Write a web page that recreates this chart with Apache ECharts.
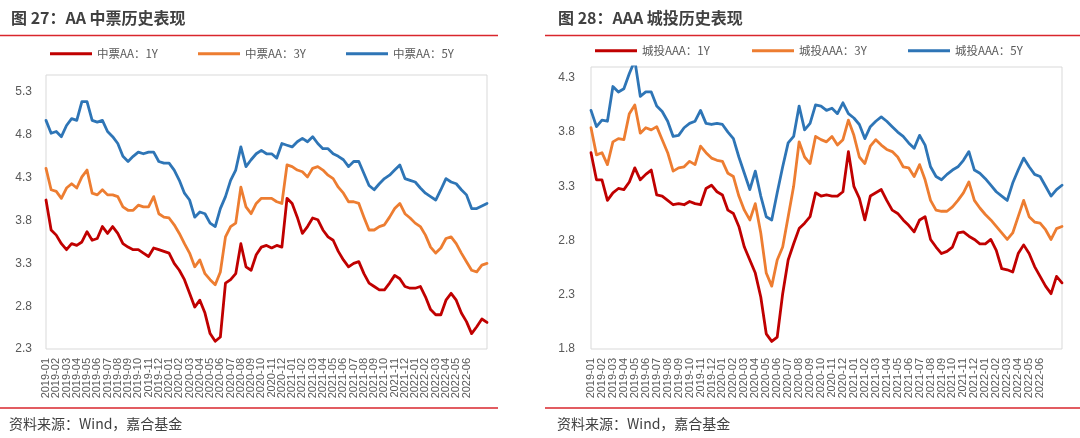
<!DOCTYPE html>
<html>
<head>
<meta charset="utf-8">
<script src="https://cdn.jsdelivr.net/npm/echarts@6/dist/echarts.min.js"></script>
<style>
html,body{margin:0;padding:0;background:#fff;}
#c{width:1080px;height:438px;}
</style>
</head>
<body>
<div id="c"></div>
<script>
// Month tick labels (two samples per month, first sample carries the label)
const months = ['2019-01','2019-02','2019-03','2019-04','2019-05','2019-06','2019-07','2019-08','2019-09','2019-10','2019-11','2019-12',
'2020-01','2020-02','2020-03','2020-04','2020-05','2020-06','2020-07','2020-08','2020-09','2020-10','2020-11','2020-12',
'2021-01','2021-02','2021-03','2021-04','2021-05','2021-06','2021-07','2021-08','2021-09','2021-10','2021-11','2021-12',
'2022-01','2022-02','2022-03','2022-04','2022-05','2022-06','2022-07'];
const lastLabel = '2022-06';
const endPoint = '2022-08-01';

// Left chart: 中票AA
const aa1Y = [4.04,3.69,3.63,3.53,3.46,3.53,3.51,3.55,3.67,3.57,3.59,3.73,3.65,3.73,3.65,3.53,3.49,3.46,3.46,3.42,3.38,3.48,3.46,3.44,3.42,3.30,3.22,3.11,2.95,2.79,2.87,2.72,2.48,2.39,2.44,3.07,3.11,3.18,3.53,3.26,3.22,3.40,3.49,3.51,
3.48,3.51,3.49,4.06,4.00,3.84,3.65,3.73,3.83,3.81,3.69,3.61,3.57,3.44,3.34,3.26,3.30,3.32,3.18,3.07,3.03,2.99,2.99,3.07,3.16,3.12,3.03,3.01,3.01,3.03,2.91,2.76,2.70,2.70,2.87,2.95,2.87,2.72,2.62,2.48,2.56,2.65,2.61];
const aa3Y = [4.41,4.16,4.14,4.06,4.18,4.23,4.18,4.31,4.39,4.12,4.10,4.16,4.10,4.10,4.08,3.96,3.92,3.92,3.98,3.96,3.96,4.08,3.88,3.84,3.83,3.75,3.65,3.53,3.42,3.26,3.34,3.18,3.11,3.05,3.20,3.61,3.73,3.77,4.19,3.96,3.88,4.00,4.06,4.06,
4.06,4.02,4.00,4.45,4.43,4.39,4.37,4.31,4.41,4.43,4.39,4.33,4.29,4.19,4.12,4.02,4.02,4.00,3.84,3.69,3.69,3.73,3.75,3.84,3.94,4.00,3.88,3.83,3.77,3.73,3.63,3.49,3.42,3.48,3.59,3.61,3.53,3.42,3.32,3.22,3.20,3.28,3.30];
const aa5Y = [4.97,4.82,4.84,4.78,4.91,4.99,4.97,5.19,5.19,4.97,4.95,4.97,4.84,4.78,4.70,4.55,4.49,4.55,4.60,4.58,4.60,4.60,4.49,4.47,4.47,4.39,4.27,4.12,4.04,3.84,3.90,3.88,3.77,3.73,3.94,4.08,4.27,4.39,4.66,4.43,4.51,4.58,4.62,4.58,
4.58,4.53,4.70,4.68,4.66,4.72,4.76,4.72,4.78,4.70,4.64,4.64,4.58,4.55,4.51,4.43,4.49,4.49,4.35,4.21,4.16,4.23,4.29,4.33,4.39,4.45,4.29,4.27,4.25,4.18,4.12,4.08,4.04,4.16,4.29,4.25,4.23,4.16,4.10,3.94,3.94,3.97,4.00];

// Right chart: 城投AAA
const aaa1Y = [3.61,3.36,3.36,3.17,3.24,3.28,3.27,3.34,3.47,3.36,3.41,3.45,3.22,3.21,3.17,3.13,3.14,3.13,3.16,3.14,3.13,3.28,3.31,3.25,3.22,3.08,3.05,2.93,2.74,2.62,2.50,2.28,1.94,1.87,1.91,2.31,2.62,2.77,2.91,2.96,3.02,3.24,3.21,
3.22,3.21,3.21,3.25,3.62,3.30,3.19,2.99,3.21,3.24,3.27,3.17,3.08,3.05,2.99,2.94,2.88,2.99,3.02,2.81,2.74,2.68,2.70,2.74,2.87,2.88,2.84,2.81,2.77,2.77,2.81,2.71,2.54,2.53,2.51,2.68,2.76,2.68,2.56,2.47,2.38,2.31,2.47,2.41];
const aaa3Y = [3.84,3.59,3.61,3.50,3.71,3.74,3.73,3.97,4.05,3.79,3.84,3.82,3.85,3.73,3.61,3.44,3.47,3.48,3.53,3.50,3.67,3.61,3.56,3.54,3.53,3.42,3.39,3.21,3.08,2.99,3.14,2.87,2.50,2.38,2.62,2.74,3.02,3.30,3.71,3.57,3.51,3.76,3.73,
3.71,3.76,3.68,3.73,3.91,3.77,3.57,3.51,3.67,3.73,3.68,3.64,3.62,3.57,3.48,3.47,3.39,3.50,3.36,3.17,3.08,3.07,3.07,3.11,3.17,3.24,3.34,3.17,3.10,3.04,2.99,2.93,2.87,2.81,2.87,3.02,3.17,3.02,2.97,2.96,2.90,2.81,2.91,2.93];
const aaa5Y = [4.00,3.85,3.91,3.90,4.22,4.17,4.20,4.34,4.46,4.13,4.17,4.17,4.04,3.99,3.90,3.76,3.77,3.84,3.88,3.90,4.00,3.88,3.87,3.88,3.87,3.80,3.74,3.57,3.42,3.27,3.44,3.21,3.02,2.99,3.24,3.48,3.70,3.76,4.04,3.82,3.88,4.05,4.04,
4.00,4.02,3.97,4.07,3.97,3.93,3.87,3.74,3.85,3.90,3.94,3.90,3.85,3.80,3.76,3.70,3.65,3.77,3.68,3.48,3.39,3.36,3.41,3.45,3.48,3.54,3.62,3.45,3.42,3.37,3.31,3.25,3.21,3.17,3.33,3.45,3.56,3.48,3.41,3.39,3.30,3.21,3.27,3.31];

const namesL = ['中票AA：1Y','中票AA：3Y','中票AA：5Y'];
const namesR = ['城投AAA：1Y','城投AAA：3Y','城投AAA：5Y'];
const colors = ['#C00000','#ED7D31','#2E75B6'];

const categories = [];
months.forEach(m => { categories.push(m + '-01'); categories.push(m + '-16'); });
categories.push(endPoint);

const FONT = "'Liberation Sans','Noto Sans CJK SC',sans-serif";
const CJK = "'Noto Sans CJK SC','Liberation Sans',sans-serif";

// parity: null = all month labels; 0 = even months only; 1 = odd months only
function xAxis(gi, parity, show){
  return {
    type:'category', gridIndex:gi, data:categories, boundaryGap:false, position:'bottom', offset:0,
    axisLine:{show:false}, axisTick:{show:false}, splitLine:{show:false},
    axisPointer:{show:false},
    axisLabel:{
      show:show !== false,
      rotate:90, fontSize:11, color:'#595959', fontFamily:FONT, margin:9,
      showMinLabel:true, showMaxLabel:true, hideOverlap:false,
      interval:(idx, val) => val.endsWith('-01') && val.slice(0,7) <= lastLabel &&
        (parity === null || ((idx / 2) % 2) === parity),
      formatter: v => v.slice(0,7)
    }
  };
}
function yAxis(gi, min, max, margin){
  return {
    type:'value', gridIndex:gi, min:min, max:max, interval:0.1,
    axisLine:{show:false}, axisTick:{show:false}, splitLine:{show:false},
    axisLabel:{
      fontSize:12, color:'#595959', fontFamily:FONT, margin:margin,
      showMaxLabel:false,
      formatter: v => { const k = Math.round((v - min) * 10); return (k % 5 === 0) ? v.toFixed(1) : ''; }
    }
  };
}
function series(name, data, xi, yi, color){
  return {
    name:name, type:'line', xAxisIndex:xi, yAxisIndex:yi, data:data,
    showSymbol:false, symbol:'none', clip:true,
    lineStyle:{width:2.8, color:color, cap:'round', join:'round'},
    itemStyle:{color:color}, emphasis:{disabled:true}
  };
}
function legend(name, left, top){
  return {
    data:[{name:name, icon:'rect'}], left:left, top:top, padding:0,
    itemWidth:42, itemHeight:3,
    textStyle:{fontSize:11.5, color:'#595959', fontFamily:CJK}
  };
}

const chart = echarts.init(document.getElementById('c'), null, {renderer:'canvas'});
chart.setOption({
  animation:false,
  backgroundColor:'#fff',
  grid:[
    {left:46, top:75, width:441, height:274, show:true, borderColor:'#D9D9D9', borderWidth:1, backgroundColor:'transparent'},
    {left:591, top:67, width:471, height:282, show:true, borderColor:'#D9D9D9', borderWidth:1, backgroundColor:'transparent'}
  ],
  xAxis:[xAxis(0, 0), xAxis(0, 1), xAxis(1, null)],
  yAxis:[yAxis(0, 2.3, 5.5, 14), yAxis(1, 1.8, 4.4, 16)],
  legend:[
    legend(namesL[0], 50, 48), legend(namesL[1], 198, 48), legend(namesL[2], 346, 48),
    legend(namesR[0], 595, 45), legend(namesR[1], 752, 45), legend(namesR[2], 908, 45)
  ],
  series:[
    series(namesL[0], aa1Y, 0, 0, colors[0]),
    series(namesL[1], aa3Y, 0, 0, colors[1]),
    series(namesL[2], aa5Y, 0, 0, colors[2]),
    series(namesR[0], aaa1Y, 2, 1, colors[0]),
    series(namesR[1], aaa3Y, 2, 1, colors[1]),
    series(namesR[2], aaa5Y, 2, 1, colors[2])
  ],
  graphic:[
    {type:'text', left:11, top:10, style:{text:'图 27：AA 中票历史表现', font:"bold 16px " + CJK, fill:'#404040'}},
    {type:'text', left:558, top:10, style:{text:'图 28：AAA 城投历史表现', font:"bold 16px " + CJK, fill:'#404040'}},
    {type:'line', shape:{x1:0, y1:35.5, x2:498, y2:35.5}, style:{stroke:'#D9262C', lineWidth:1.5}},
    {type:'line', shape:{x1:545, y1:35.5, x2:1080, y2:35.5}, style:{stroke:'#D9262C', lineWidth:1.5}},
    {type:'line', shape:{x1:0, y1:408, x2:498, y2:408}, style:{stroke:'#D9262C', lineWidth:1.5}},
    {type:'line', shape:{x1:545, y1:408, x2:1080, y2:408}, style:{stroke:'#D9262C', lineWidth:1.5}},
    {type:'text', left:9, top:417, style:{text:'资料来源：Wind，嘉合基金', font:"14px " + CJK, fill:'#404040'}},
    {type:'text', left:557, top:417, style:{text:'资料来源：Wind，嘉合基金', font:"14px " + CJK, fill:'#404040'}}
  ]
});
</script>
</body>
</html>
